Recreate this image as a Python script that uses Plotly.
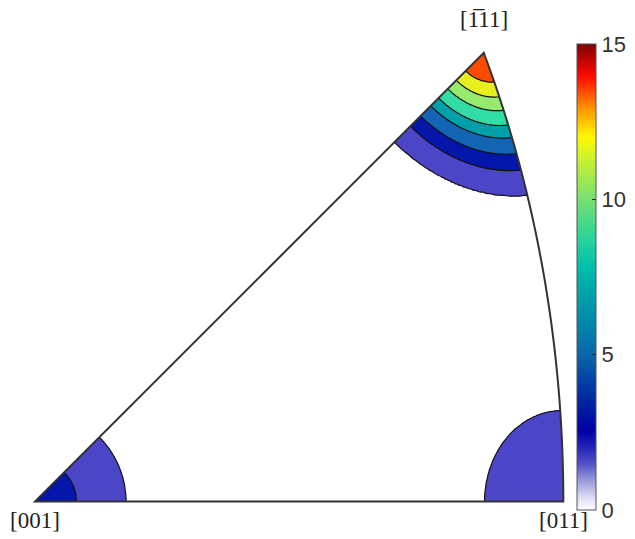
import numpy as np
import plotly.graph_objects as go

# ---------------- data ----------------
# contour levels (multiples of random distribution)
LEVELS = [1.6, 3.2, 4.8, 6.4, 8.0, 9.6, 11.2, 12.8]
# fill colour of each band: below first level, then one per level
BAND_COLORS = ["#FFFFFF", "#4B46C8", "#0516AA", "#1464B4", "#00A0AA",
               "#32DCA5", "#96EB6E", "#E6F01E", "#FF4B00"]

P111_ANG = [0, 2.4, 3.6, 4.7, 5.9, 6.9, 8.2, 9.5, 11.5, 20]
P111_VAL = [13.8, 12.8, 11.2, 9.6, 8.0, 6.4, 4.8, 3.2, 1.6, 0.0]
P001_ANG = [0, 3.45, 7.55, 14]
P001_VAL = [3.8, 3.2, 1.6, 0.0]
P011_ANG = [0, 7.0, 14]
P011_VAL = [2.6, 1.6, 0.0]

# fundamental sector corners (directions in the sector frame) and labels
POLE_LABELS = ["[001]", "[011]", "[1\u030511]"]
POLE_VECTORS = [(0, 0, 1), (1, 0, 1), (1, 1, 1)]

CBAR_MIN, CBAR_MAX = 0, 15
CBAR_TICKS = [0, 5, 10, 15]
CBAR_COLORS = [
    (0.00, "rgb(255,255,255)"), (0.03, "rgb(215,215,240)"),
    (0.07, "rgb(140,140,215)"), (0.10, "rgb(80,80,200)"),
    (0.14, "rgb(30,30,180)"), (0.17, "rgb(0,0,165)"),
    (0.22, "rgb(0,30,160)"), (0.27, "rgb(0,60,165)"),
    (0.33, "rgb(10,100,170)"), (0.40, "rgb(0,135,170)"),
    (0.47, "rgb(0,165,170)"), (0.52, "rgb(0,190,170)"),
    (0.58, "rgb(40,210,155)"), (0.67, "rgb(120,225,110)"),
    (0.75, "rgb(200,240,50)"), (0.80, "rgb(255,250,0)"),
    (0.86, "rgb(255,150,0)"), (0.93, "rgb(255,10,0)"),
    (1.00, "rgb(128,0,0)"),
]


# ---------------- geometry (equal-area projection) ----------------
def unit(v):
    v = np.asarray(v, float)
    return v / np.linalg.norm(v)


def proj(v):
    v = unit(v)
    f = np.sqrt(2.0 / (1.0 + v[2]))
    return v[0] * f, v[1] * f


poles = [unit(v) for v in POLE_VECTORS]
corner_xy = [proj(v) for v in poles]

# sector boundary: [001] -> [011] (straight), [011] -> [111] (great-circle arc), back
alpha = np.linspace(0, np.arctan(1 / np.sqrt(2)), 80)
arc = [proj((np.cos(a) / np.sqrt(2), np.sin(a), np.cos(a) / np.sqrt(2))) for a in alpha]
boundary = [corner_xy[0]] + arc + [corner_xy[0]]

# density grid
gx = np.linspace(-0.02, 0.79, 340)
gy = np.linspace(-0.02, 0.68, 300)
GX, GY = np.meshgrid(gx, gy)
R2 = GX ** 2 + GY ** 2
fz = np.sqrt(1 - R2 / 4)
V = np.stack([GX * fz, GY * fz, 1 - R2 / 2], axis=-1)


def profile(pole, ang, val):
    d = np.degrees(np.arccos(np.clip(V @ pole, -1, 1)))
    return np.interp(d, ang, val, right=0.0)


Z = np.maximum.reduce([
    profile(poles[2], P111_ANG, P111_VAL),
    profile(poles[0], P001_ANG, P001_VAL),
    profile(poles[1], P011_ANG, P011_VAL),
])
Z = np.round(Z, 3)

step = LEVELS[1] - LEVELS[0]
nb = len(BAND_COLORS) - 1
band_scale = [[k / nb, c] for k, c in enumerate(BAND_COLORS)]

# page body has an 8px margin: figure sized/positioned to compensate
W, H = 627, 531
ML, MR, MT, MB = 4, 62, 4, 14
PW, PH = W - ML - MR, H - MT - MB
SCALE = 690.3  # px per projection unit
O_X, O_Y = 35 - 8, 501.6 - 8  # [001] in figure pixels

fig = go.Figure()
fig.add_trace(go.Contour(
    x=gx, y=gy, z=Z, autocontour=False,
    contours=dict(start=LEVELS[0], end=LEVELS[-1], size=step,
                  coloring="fill", showlines=True),
    line=dict(color="#111111", width=1.2, smoothing=1),
    colorscale=band_scale, zmin=LEVELS[0] - step / 2, zmax=LEVELS[-1] + step / 2,
    showscale=False, hoverinfo="skip",
))

# colour bar
fig.add_trace(go.Scatter(
    x=[corner_xy[0][0]], y=[corner_xy[0][1]], mode="markers", hoverinfo="skip",
    marker=dict(size=1, opacity=0, color=[CBAR_MIN], cmin=CBAR_MIN, cmax=CBAR_MAX,
                colorscale=[[p, c] for p, c in CBAR_COLORS], showscale=True,
                colorbar=dict(thickness=19, thicknessmode="pixels",
                              len=466, lenmode="pixels",
                              x=(577 - 8 - ML) / PW, xanchor="left", xpad=0,
                              y=(H - MB - (44 - 8)) / PH, yanchor="top", ypad=0,
                              outlinecolor="#555555", outlinewidth=1,
                              tickvals=CBAR_TICKS, ticks="inside", ticklen=4,
                              tickcolor="#222222", tickprefix="\u2009",
                              tickfont=dict(family="Liberation Sans", size=22,
                                            color="#333333"))),
))

# white mask outside the sector, then the outline
big = "M -1 -1 L 2 -1 L 2 2 L -1 2 Z "
tri = "M " + " L ".join(f"{x:.5f} {y:.5f}" for x, y in boundary) + " Z"
fig.add_shape(type="path", path=big + tri, fillrule="evenodd",
              fillcolor="white", line=dict(width=0), layer="above",
              xref="x", yref="y")
fig.add_shape(type="path", path=tri, line=dict(color="#333333", width=2),
              layer="above", xref="x", yref="y")

# pole labels
offsets = [dict(yanchor="top", yshift=-4), dict(yanchor="top", yshift=-4),
           dict(yanchor="bottom", yshift=19)]
for (x, y), lab, off in zip(corner_xy, POLE_LABELS, offsets):
    fig.add_annotation(x=x, y=y, text=lab, showarrow=False, xanchor="center",
                       font=dict(family="Liberation Serif", size=23, color="#222222"),
                       **off)

x0 = (ML - O_X) / SCALE
x1 = (ML + PW - O_X) / SCALE
y1 = (O_Y - MT) / SCALE
y0 = (O_Y - (MT + PH)) / SCALE
fig.update_layout(
    width=W, height=H,
    margin=dict(l=ML, r=MR, t=MT, b=MB, autoexpand=False),
    paper_bgcolor="white", plot_bgcolor="white", showlegend=False,
    xaxis=dict(range=[x0, x1], visible=False),
    yaxis=dict(range=[y0, y1], visible=False),
)
fig.write_html("out.html")
